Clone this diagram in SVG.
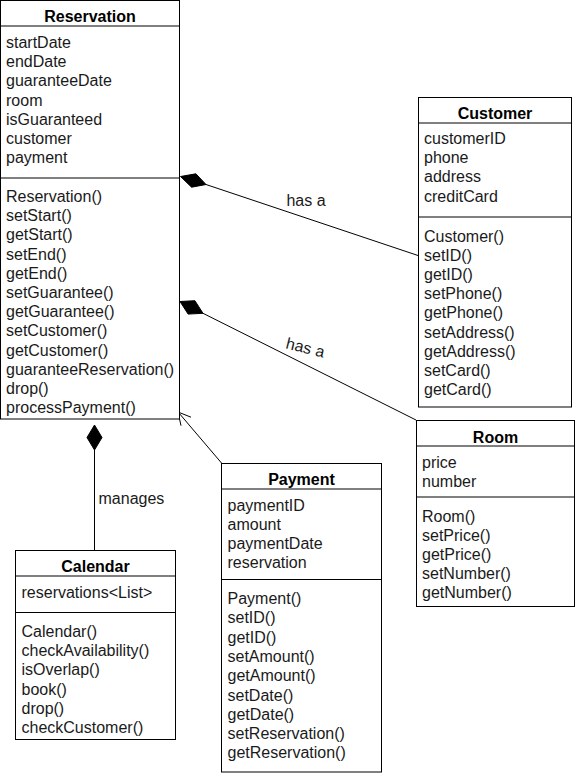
<svg xmlns="http://www.w3.org/2000/svg" width="576" height="777" viewBox="0 0 576 777">
<style>
.box{fill:#ffffff;stroke:#000000;stroke-width:1}
.sep{stroke:#000000;stroke-width:1}
.t{font-family:"Liberation Sans",Arial,Helvetica,sans-serif;font-size:16px;fill:#1a1a1a}
.h{font-family:"Liberation Sans",Arial,Helvetica,sans-serif;font-size:16px;font-weight:bold;fill:#000000;text-anchor:middle}
.ln{stroke:#000000;stroke-width:1;fill:none}
.dia{fill:#000000;stroke:#000000;stroke-width:1}
</style>
<rect width="576" height="777" fill="#ffffff"/>

<g id="connectors">
  <line class="ln" x1="206" y1="184.5" x2="418" y2="255.5"/>
  <polygon class="dia" points="180.5,176.5 195.9,173.8 206,184.5 191.6,187.2"/>
  <text class="t" x="306" y="206" text-anchor="middle">has a</text>

  <line class="ln" x1="203" y1="313.3" x2="416" y2="420"/>
  <polygon class="dia" points="180,301.5 194.9,300.7 203,313.3 188.1,314.1"/>
  <text class="t" x="305" y="353" text-anchor="middle" transform="rotate(14 305 349)">has a</text>

  <line class="ln" x1="94.5" y1="450" x2="94.5" y2="550"/>
  <polygon class="dia" points="94.5,425 102,437.5 94.5,450 87,437.5"/>
  <text class="t" x="98.5" y="504">manages</text>

  <line class="ln" x1="221.5" y1="463" x2="178.5" y2="412.5"/>
  <polyline class="ln" points="191,417.2 178,412 181,425.7"/>
</g>

<g id="Reservation">
  <rect class="box" x="0.5" y="0.5" width="179" height="418.5"/>
  <line class="sep" x1="0.5" y1="26" x2="179.5" y2="26"/>
  <line class="sep" x1="0.5" y1="178" x2="179.5" y2="178"/>
  <text class="h" x="90" y="22">Reservation</text>
  <text class="t" x="6" y="48">startDate</text>
  <text class="t" x="6" y="67.2">endDate</text>
  <text class="t" x="6" y="86.4">guaranteeDate</text>
  <text class="t" x="6" y="105.6">room</text>
  <text class="t" x="6" y="124.8">isGuaranteed</text>
  <text class="t" x="6" y="144">customer</text>
  <text class="t" x="6" y="163.2">payment</text>
  <text class="t" x="6" y="202">Reservation()</text>
  <text class="t" x="6" y="221.2">setStart()</text>
  <text class="t" x="6" y="240.4">getStart()</text>
  <text class="t" x="6" y="259.6">setEnd()</text>
  <text class="t" x="6" y="278.8">getEnd()</text>
  <text class="t" x="6" y="298">setGuarantee()</text>
  <text class="t" x="6" y="317.2">getGuarantee()</text>
  <text class="t" x="6" y="336.4">setCustomer()</text>
  <text class="t" x="6" y="355.6">getCustomer()</text>
  <text class="t" x="6" y="374.8">guaranteeReservation()</text>
  <text class="t" x="6" y="394">drop()</text>
  <text class="t" x="6" y="413.2">processPayment()</text>
</g>

<g id="Customer">
  <rect class="box" x="418.5" y="97.5" width="153" height="309.5"/>
  <line class="sep" x1="418.5" y1="123" x2="571.5" y2="123"/>
  <line class="sep" x1="418.5" y1="217" x2="571.5" y2="217"/>
  <text class="h" x="495" y="119">Customer</text>
  <text class="t" x="424" y="144">customerID</text>
  <text class="t" x="424" y="163.2">phone</text>
  <text class="t" x="424" y="182.4">address</text>
  <text class="t" x="424" y="201.6">creditCard</text>
  <text class="t" x="424" y="241.5">Customer()</text>
  <text class="t" x="424" y="260.7">setID()</text>
  <text class="t" x="424" y="279.9">getID()</text>
  <text class="t" x="424" y="299.1">setPhone()</text>
  <text class="t" x="424" y="318.3">getPhone()</text>
  <text class="t" x="424" y="337.5">setAddress()</text>
  <text class="t" x="424" y="356.7">getAddress()</text>
  <text class="t" x="424" y="375.9">setCard()</text>
  <text class="t" x="424" y="395.1">getCard()</text>
</g>

<g id="Room">
  <rect class="box" x="416.5" y="420.5" width="158" height="186"/>
  <line class="sep" x1="416.5" y1="446" x2="574.5" y2="446"/>
  <line class="sep" x1="416.5" y1="497" x2="574.5" y2="497"/>
  <text class="h" x="495.5" y="443">Room</text>
  <text class="t" x="422" y="468">price</text>
  <text class="t" x="422" y="487.2">number</text>
  <text class="t" x="422" y="521.5">Room()</text>
  <text class="t" x="422" y="540.7">setPrice()</text>
  <text class="t" x="422" y="559.9">getPrice()</text>
  <text class="t" x="422" y="579.1">setNumber()</text>
  <text class="t" x="422" y="598.3">getNumber()</text>
</g>

<g id="Payment">
  <rect class="box" x="221.5" y="463.5" width="160" height="308.5"/>
  <line class="sep" x1="221.5" y1="489" x2="381.5" y2="489"/>
  <line class="sep" x1="221.5" y1="579.5" x2="381.5" y2="579.5"/>
  <text class="h" x="301.5" y="485">Payment</text>
  <text class="t" x="227.5" y="510.5">paymentID</text>
  <text class="t" x="227.5" y="529.7">amount</text>
  <text class="t" x="227.5" y="548.9">paymentDate</text>
  <text class="t" x="227.5" y="568.1">reservation</text>
  <text class="t" x="227.5" y="604">Payment()</text>
  <text class="t" x="227.5" y="623.3">setID()</text>
  <text class="t" x="227.5" y="642.6">getID()</text>
  <text class="t" x="227.5" y="661.9">setAmount()</text>
  <text class="t" x="227.5" y="681.2">getAmount()</text>
  <text class="t" x="227.5" y="700.5">setDate()</text>
  <text class="t" x="227.5" y="719.8">getDate()</text>
  <text class="t" x="227.5" y="739.1">setReservation()</text>
  <text class="t" x="227.5" y="758.4">getReservation()</text>
</g>

<g id="Calendar">
  <rect class="box" x="15.5" y="550.5" width="160" height="189"/>
  <line class="sep" x1="15.5" y1="576" x2="175.5" y2="576"/>
  <line class="sep" x1="15.5" y1="612.5" x2="175.5" y2="612.5"/>
  <text class="h" x="95.5" y="572">Calendar</text>
  <text class="t" x="21.5" y="598">reservations&lt;List&gt;</text>
  <text class="t" x="21.5" y="637">Calendar()</text>
  <text class="t" x="21.5" y="656.2">checkAvailability()</text>
  <text class="t" x="21.5" y="675.4">isOverlap()</text>
  <text class="t" x="21.5" y="694.6">book()</text>
  <text class="t" x="21.5" y="713.8">drop()</text>
  <text class="t" x="21.5" y="733">checkCustomer()</text>
</g>
</svg>
